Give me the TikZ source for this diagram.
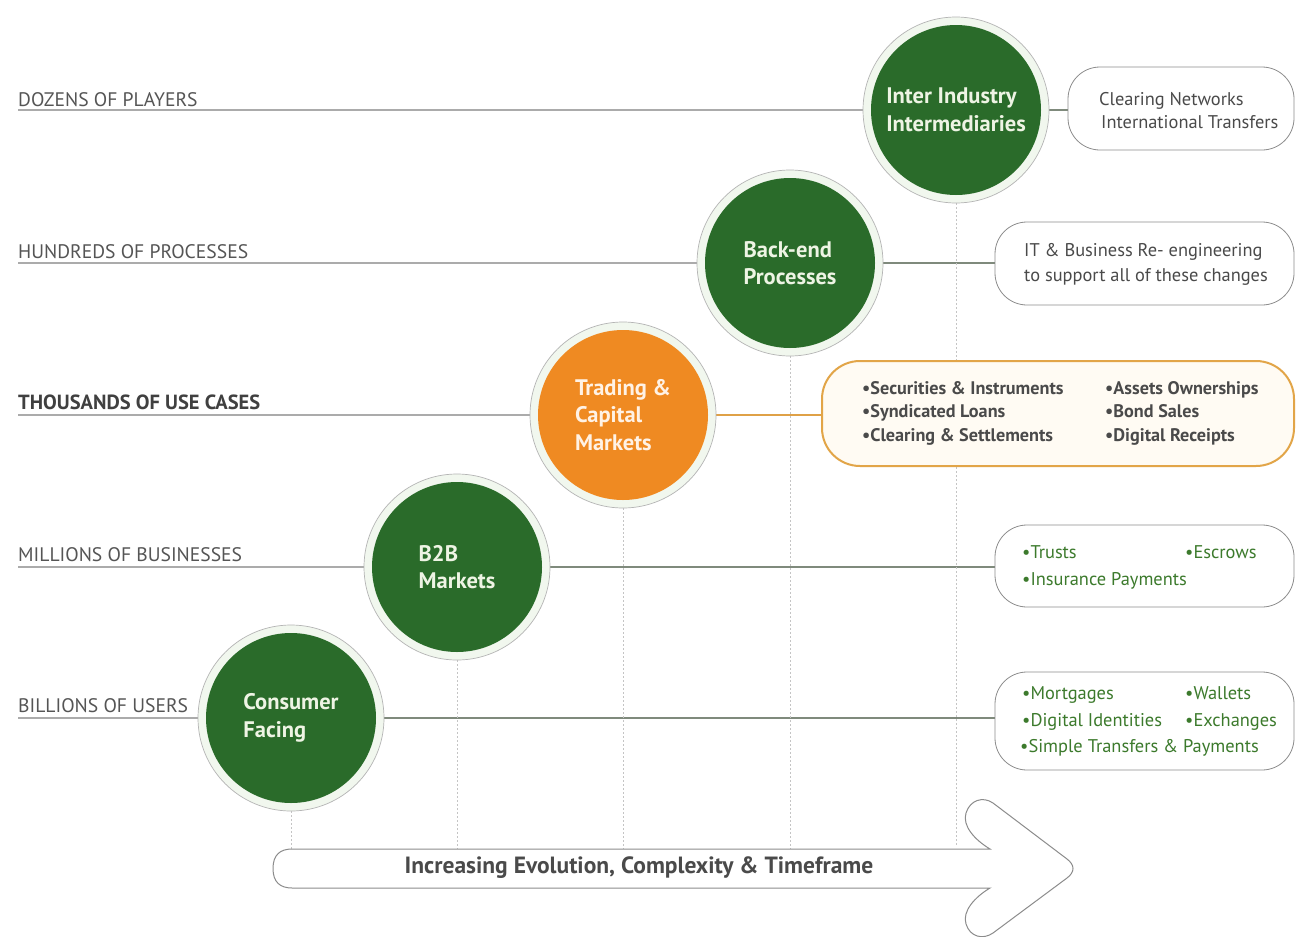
\documentclass[tikz,border=0pt]{standalone}
\usepackage{fontspec}
\setmainfont{PT Sans}
\usetikzlibrary{backgrounds}
\definecolor{dgreen}{HTML}{2A6B2A}
\definecolor{dorange}{HTML}{EF8A22}
\definecolor{ringgray}{HTML}{B4B4B4}
\definecolor{ringfill}{HTML}{F1F7EE}
\definecolor{ctextcol}{HTML}{EEF4E4}
\definecolor{labelgray}{HTML}{555555}
\definecolor{linegray}{HTML}{ABABAB}
\definecolor{rlinegray}{HTML}{7F8A7C}
\definecolor{boxgray}{HTML}{8C8C8C}
\definecolor{boxtext}{HTML}{4A4A4A}
\definecolor{greentext}{HTML}{3C7A2C}
\definecolor{gold}{HTML}{E2A548}
\definecolor{cream}{HTML}{FFFBF3}
\definecolor{dotgray}{HTML}{C4C4C4}
\begin{document}
\begin{tikzpicture}[x=1pt,y=-1pt,
  lbl/.style={anchor=base west, inner sep=0, font=\fontsize{19.6}{22}\selectfont, text=labelgray},
  ringnode/.style={circle, minimum size=186pt, draw=ringgray, line width=0.7pt, fill=ringfill, inner sep=0},
  disc/.style={circle, minimum size=170pt, fill=dgreen, inner sep=0, align=left,
    text=ctextcol, font=\bfseries\fontsize{22.5}{27.5}\selectfont},
  pill/.style={rectangle, rounded corners=32pt, draw=boxgray, line width=0.8pt, fill=white, inner sep=0},
  btext/.style={anchor=base west, inner sep=0, font=\fontsize{18.4}{20}\selectfont, text=boxtext},
  gtext/.style={anchor=base west, inner sep=0, font=\fontsize{18.4}{20}\selectfont, text=greentext},
  ttext/.style={anchor=base west, inner sep=0, font=\bfseries\fontsize{18.2}{20}\selectfont, text=boxtext},
  hline/.style={draw=linegray, line width=1.5pt},
  rline/.style={draw=rlinegray, line width=1.2pt},
  vdot/.style={draw=dotgray, line width=1pt, dash pattern=on 2pt off 2pt},
  arrowshape/.style={draw=boxgray, line width=1pt, fill=white}
]
\useasboundingbox (0,0) rectangle (1296,937);

% left labels
\node[lbl] (l5) at (18,106) {DOZENS OF PLAYERS};
\node[lbl] (l4) at (18,258) {HUNDREDS OF PROCESSES};
\node[lbl, font=\bfseries\fontsize{20.5}{22}\selectfont, text=black!75] (l3) at (18,409) {THOUSANDS OF USE CASES};
\node[lbl] (l2) at (18,561) {MILLIONS OF BUSINESSES};
\node[lbl] (l1) at (18,712) {BILLIONS OF USERS};

\coordinate (s5) at (18,110);
\coordinate (s4) at (18,263);
\coordinate (s3) at (18,415);
\coordinate (s2) at (18,567);
\coordinate (s1) at (18,718);

% right boxes
\node[pill, minimum width=226pt, minimum height=83pt] (b5) at (1181,108.5) {};
\node[pill, minimum width=299pt, minimum height=83pt] (b4) at (1144.5,263.5) {};
\node[pill, draw=gold, line width=2pt, fill=cream, rounded corners=38pt, minimum width=472pt, minimum height=105pt] (b3) at (1058,413.5) {};
\node[pill, minimum width=299pt, minimum height=82pt] (b2) at (1144.5,566) {};
\node[pill, minimum width=299pt, minimum height=98pt] (b1) at (1144.5,721) {};

% arrow
\coordinate (a1) at (291,849);
\coordinate (a2) at (457,849);
\coordinate (a3) at (623,849);
\coordinate (a4) at (790,849);
\coordinate (a5) at (956,846);
\draw[arrowshape] (292,849) -- (990,849)
  .. controls (975,840) and (962,826) .. (966,813)
  .. controls (970,800) and (983,796) .. (993,803)
  -- (1067,859) .. controls (1075,865) and (1075,872) .. (1067,878)
  -- (993,933) .. controls (983,940) and (970,937) .. (966,924)
  .. controls (962,911) and (975,897) .. (990,888)
  -- (292,888) .. controls (280,888) and (273,882) .. (273,868.5)
  .. controls (273,855) and (280,849) .. (292,849) -- cycle;
\node[inner sep=0, font=\bfseries\fontsize{23.5}{26}\selectfont, text=boxtext] (at) at (639,868) {Increasing Evolution, Complexity \& Timeframe};

% circles
\node[ringnode] (r1) at (291,718) {};
\node[ringnode] (r2) at (457,567) {};
\node[ringnode] (r3) at (623,415) {};
\node[ringnode] (r4) at (790,263) {};
\node[ringnode] (r5) at (956,110) {};
\node[disc] (c1) at (291,718) {Consumer\\Facing};
\node[disc] (c2) at (457,567) {B2B\\Markets};
\node[disc, fill=dorange, text=white!90!orange] (c3) at (623,415) {Trading \&\\Capital\\Markets};
\node[disc] (c4) at (790,263) {Back-end\\Processes};
\node[disc] (c5) at (956,110) {Inter Industry\\Intermediaries};

% connectors
\begin{scope}[on background layer]
\fill[white] (0,0) rectangle (1296,937);
\draw[hline] (s5) -- (r5.west);
\draw[hline] (s4) -- (r4.west);
\draw[hline] (s3) -- (r3.west);
\draw[hline] (s2) -- (r2.west);
\draw[hline] (s1) -- (r1.west);
\draw[rline] (r5.east) -- (r5.east -| b5.west);
\draw[rline] (r4.east) -- (r4.east -| b4.west);
\draw[draw=gold!90!brown, line width=1.5pt] (r3.east) -- (r3.east -| b3.west);
\draw[rline] (r2.east) -- (r2.east -| b2.west);
\draw[rline] (r1.east) -- (r1.east -| b1.west);
\draw[vdot] (r1.south) -- (a1);
\draw[vdot] (r2.south) -- (a2);
\draw[vdot] (r3.south) -- (a3);
\draw[vdot] (r4.south) -- (a4);
\draw[vdot] (r5.south) -- (a5);
\end{scope}

% box texts
\node[btext] (t51) at (1099,105) {Clearing Networks};
\node[btext] (t52) at (1101,128) {International Transfers};
\node[btext] (t41) at (1024,256) {IT \& Business Re- engineering};
\node[btext] (t42) at (1024,281) {to support all of these changes};
\node[ttext] (t31) at (862,394) {•Securities \& Instruments};
\node[ttext] (t32) at (862,417) {•Syndicated Loans};
\node[ttext] (t33) at (862,441) {•Clearing \& Settlements};
\node[ttext] (t34) at (1105,394) {•Assets Ownerships};
\node[ttext] (t35) at (1105,417) {•Bond Sales};
\node[ttext] (t36) at (1105,441) {•Digital Receipts};
\node[gtext] (t21) at (1022,558) {•Trusts};
\node[gtext] (t22) at (1185,558) {•Escrows};
\node[gtext] (t23) at (1022,585) {•Insurance Payments};
\node[gtext] (t11) at (1022,699) {•Mortgages};
\node[gtext] (t12) at (1185,699) {•Wallets};
\node[gtext] (t13) at (1022,726) {•Digital Identities};
\node[gtext] (t14) at (1185,726) {•Exchanges};
\node[gtext] (t15) at (1020,752) {•Simple Transfers \& Payments};
\end{tikzpicture}
\end{document}
